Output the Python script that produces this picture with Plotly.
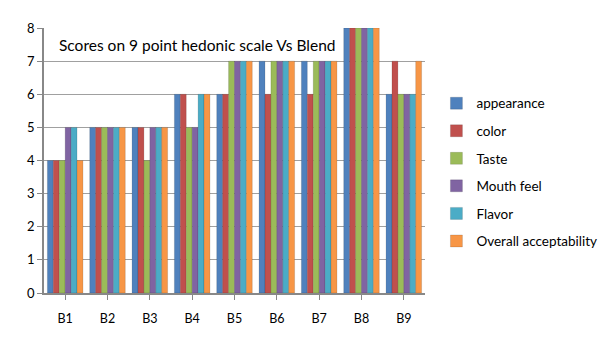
import plotly.graph_objects as go

blends = ["B1", "B2", "B3", "B4", "B5", "B6", "B7", "B8", "B9"]
appearance = [4, 5, 5, 6, 6, 7, 7, 8, 6]
color = [4, 5, 5, 6, 6, 6, 6, 8, 7]
taste = [4, 5, 4, 5, 7, 7, 7, 8, 6]
mouth_feel = [5, 5, 5, 5, 7, 7, 7, 8, 6]
flavor = [5, 5, 5, 6, 7, 7, 7, 8, 6]
overall = [4, 5, 5, 6, 7, 7, 7, 8, 7]
y_ticks = [0, 1, 2, 3, 4, 5, 6, 7, 8]

series = [
    ("appearance", appearance, "#4F81BD"),
    ("color", color, "#C0504D"),
    ("Taste", taste, "#9BBB59"),
    ("Mouth feel", mouth_feel, "#8064A2"),
    ("Flavor", flavor, "#4BACC6"),
    ("Overall acceptability", overall, "#F79646"),
]

fig = go.Figure()
for i, (name, vals, col) in enumerate(series):
    fig.add_trace(go.Bar(
        x=blends, y=vals, name=name,
        marker=dict(color=col, line=dict(color="rgba(0,0,0,0.25)", width=0.5)),
        legendgroup=f"g{i}",
    ))

fig.update_layout(
    width=612, height=350,
    margin=dict(l=36, r=195, t=14, b=65),
    paper_bgcolor="white", plot_bgcolor="white",
    barmode="group", bargap=0.16, bargroupgap=0,
    font=dict(family="Lato, Open Sans, sans-serif", size=12, color="#000000"),
    showlegend=True,
    legend=dict(x=1.03, y=0.455, xanchor="left", yanchor="middle",
                font=dict(size=13.5), tracegroupgap=7,
                itemwidth=30, bgcolor="rgba(0,0,0,0)"),
    xaxis=dict(showline=True, linecolor="#888888", linewidth=1.5,
               ticks="outside", ticklen=5, tickcolor="#888888",
               tickfont=dict(size=12.5), showgrid=False,
               ticklabelstandoff=8),
    yaxis=dict(range=[0, 8], tickvals=y_ticks, showline=True,
               linecolor="#888888", linewidth=1.5, ticks="outside",
               ticklen=5, tickcolor="#888888", showgrid=True,
               gridcolor="#A0A0A0", gridwidth=1.2, zeroline=False,
               tickfont=dict(size=13)),
    annotations=[dict(
        text="Scores on 9 point hedonic scale Vs Blend",
        xref="paper", yref="paper", x=0.035, y=0.937,
        xanchor="left", yanchor="middle", showarrow=False,
        font=dict(size=15.5, color="#000000"), bgcolor="white",
    )],
)

fig.write_html("out.html")
